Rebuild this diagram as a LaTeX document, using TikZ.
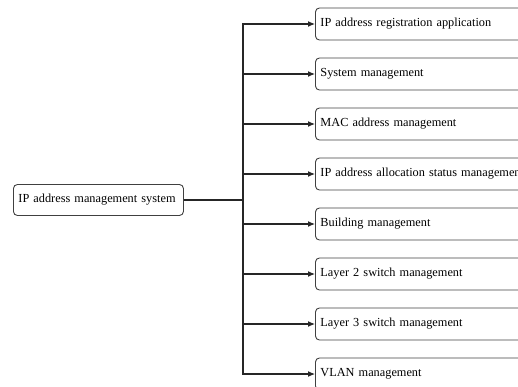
\documentclass[tikz,border=0pt]{standalone}
\usepackage{fontspec}
\setmainfont{Liberation Serif}
\usetikzlibrary{arrows.meta, positioning}

\begin{document}
\begin{tikzpicture}[x=1pt, y=-1pt, font=\fontsize{12.3}{14}\selectfont]
        \tikzstyle{box} = [rectangle, rounded corners=4pt, draw=black!75, line width=0.9pt, minimum height=32pt, inner xsep=5pt, anchor=west, align=left]
        \tikzstyle{link} = [draw=black!85, line width=1.1pt]
        \tikzstyle{arrow} = [link, -{Latex[length=7pt, width=6pt]}]

        \useasboundingbox (0,0) rectangle (518,387);
        \clip (0,0) rectangle (518,387);

        \node[box, text width=160pt, minimum height=31pt] (ipms) at (13,200) {IP address management system};
        \coordinate (trunk) at (243,200);
        \draw[link] (ipms.east) -- (trunk);

        \foreach \name/\label [count=\i] in {reg/IP address registration application, sysm/System management, mac/MAC address management, alloc/IP address allocation status management, bld/Building management, ltwo/Layer 2 switch management, lthree/Layer 3 switch management, vlan/VLAN management}{
            \node[box, text width=240pt] (\name) at (315,{24+50*(\i-1)}) {\label};
            \draw[arrow] (trunk) |- (\name.west);
        }
    \end{tikzpicture}
\end{document}
